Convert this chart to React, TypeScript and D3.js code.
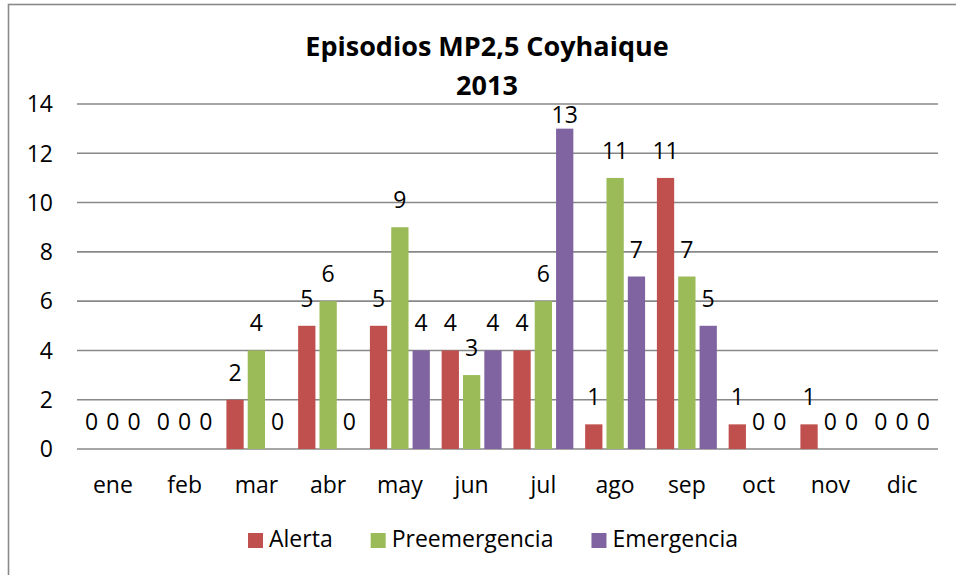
import React, { useEffect, useRef } from "react";
import * as d3 from "d3";

const months = ["ene", "feb", "mar", "abr", "may", "jun", "jul", "ago", "sep", "oct", "nov", "dic"];
const seriesNames = ["Alerta", "Preemergencia", "Emergencia"];
const seriesColors = ["#C0504D", "#9BBB59", "#8064A2"];
const alerta = [0, 0, 2, 5, 5, 4, 4, 1, 11, 1, 1, 0];
const preemergencia = [0, 0, 4, 6, 9, 3, 6, 11, 7, 0, 0, 0];
const emergencia = [0, 0, 0, 0, 4, 4, 13, 7, 5, 0, 0, 0];
const yTicks = [0, 2, 4, 6, 8, 10, 12, 14];
const titleLines = ["Episodios MP2,5 Coyhaique", "2013"];

const W = 956;
const H = 575;
const FONT = "'Open Sans', Lato, sans-serif";
const FS = 23;

export default function App() {
  const ref = useRef<SVGSVGElement>(null);

  useEffect(() => {
    const svg = d3.select(ref.current);
    svg.selectAll("*").remove();

    const values = [alerta, preemergencia, emergencia];
    const left = 77, right = 938, top = 104, bottom = 449;

    // chart border
    svg.append("rect")
      .attr("x", 8.5).attr("y", 4.5)
      .attr("width", 965).attr("height", 590)
      .attr("fill", "#fff")
      .attr("stroke", "#8a8a8a")
      .attr("stroke-width", 1.6);

    // title
    svg.append("g")
      .selectAll("text")
      .data(titleLines)
      .enter()
      .append("text")
      .attr("x", 487)
      .attr("y", (d, i) => 56 + i * 39)
      .attr("text-anchor", "middle")
      .attr("font-family", FONT)
      .attr("font-weight", "bold")
      .attr("font-size", 27)
      .text((d) => d);

    var x0 = d3.scaleBand().domain(months).range([left, right]).paddingInner(0.108).paddingOuter(0.054);
    var x1 = d3.scaleBand().domain(seriesNames).range([0, x0.bandwidth()]).paddingInner(0.19).paddingOuter(0.095);
    var y = d3.scaleLinear().domain([0, 14]).range([bottom, top]);

    // gridlines
    svg.append("g")
      .selectAll("line")
      .data(yTicks)
      .enter()
      .append("line")
      .attr("x1", left).attr("x2", right)
      .attr("y1", (d) => y(d)).attr("y2", (d) => y(d))
      .attr("stroke", "#888")
      .attr("stroke-width", 1.6);

    // y tick labels
    svg.append("g")
      .selectAll("text")
      .data(yTicks)
      .enter()
      .append("text")
      .attr("x", 53)
      .attr("y", (d) => y(d))
      .attr("dy", "0.36em")
      .attr("text-anchor", "end")
      .attr("font-family", FONT)
      .attr("font-size", FS)
      .text((d) => d);

    // x labels
    svg.append("g")
      .selectAll("text")
      .data(months)
      .enter()
      .append("text")
      .attr("x", (d) => x0(d)! + x0.bandwidth() / 2)
      .attr("y", bottom + 44)
      .attr("text-anchor", "middle")
      .attr("font-family", FONT)
      .attr("font-size", FS)
      .text((d) => d);

    // bars + labels
    const groups = svg.append("g")
      .selectAll("g")
      .data(months)
      .enter()
      .append("g")
      .attr("transform", (d) => "translate(" + x0(d) + ",0)");

    const cells = (m: string, i: number) =>
      seriesNames.map((s, k) => ({ s, k, v: values[k][i] }));

    groups.selectAll("rect")
      .data((d, i) => cells(d, i))
      .enter()
      .append("rect")
      .attr("x", (d) => x1(d.s)!)
      .attr("width", x1.bandwidth())
      .attr("y", (d) => y(d.v))
      .attr("height", (d) => y(0) - y(d.v))
      .attr("fill", (d) => seriesColors[d.k]);

    groups.selectAll("text")
      .data((d, i) => cells(d, i))
      .enter()
      .append("text")
      .attr("x", (d) => x1(d.s)! + x1.bandwidth() / 2)
      .attr("y", (d) => Math.max(y(d.v) - 19, top + 19))
      .attr("text-anchor", "middle")
      .attr("font-family", FONT)
      .attr("font-size", FS)
      .text((d) => d.v);

    // legend
    const legend = svg.append("g").attr("transform", "translate(0,547)");
    const items = legend.selectAll("g")
      .data(seriesNames)
      .enter()
      .append("g");
    items.append("rect")
      .attr("y", -14).attr("width", 15).attr("height", 15)
      .attr("fill", (d, i) => seriesColors[i]);
    items.append("text")
      .attr("x", 21)
      .attr("font-family", FONT)
      .attr("font-size", FS)
      .text((d) => d);

    const widths: number[] = [];
    items.select("text").each(function () {
      widths.push((this as SVGTextElement).getComputedTextLength() + 21);
    });
    const gap = 38;
    const total = d3.sum(widths) + gap * (widths.length - 1);
    let pos = 493 - total / 2;
    items.attr("transform", (d, i) => {
      const t = "translate(" + pos + ",0)";
      pos += widths[i] + gap;
      return t;
    });
  }, []);

  return (
    <svg ref={ref} width={W} height={H} style={{ position: "absolute", left: 0, top: 0 }} />
  );
}
